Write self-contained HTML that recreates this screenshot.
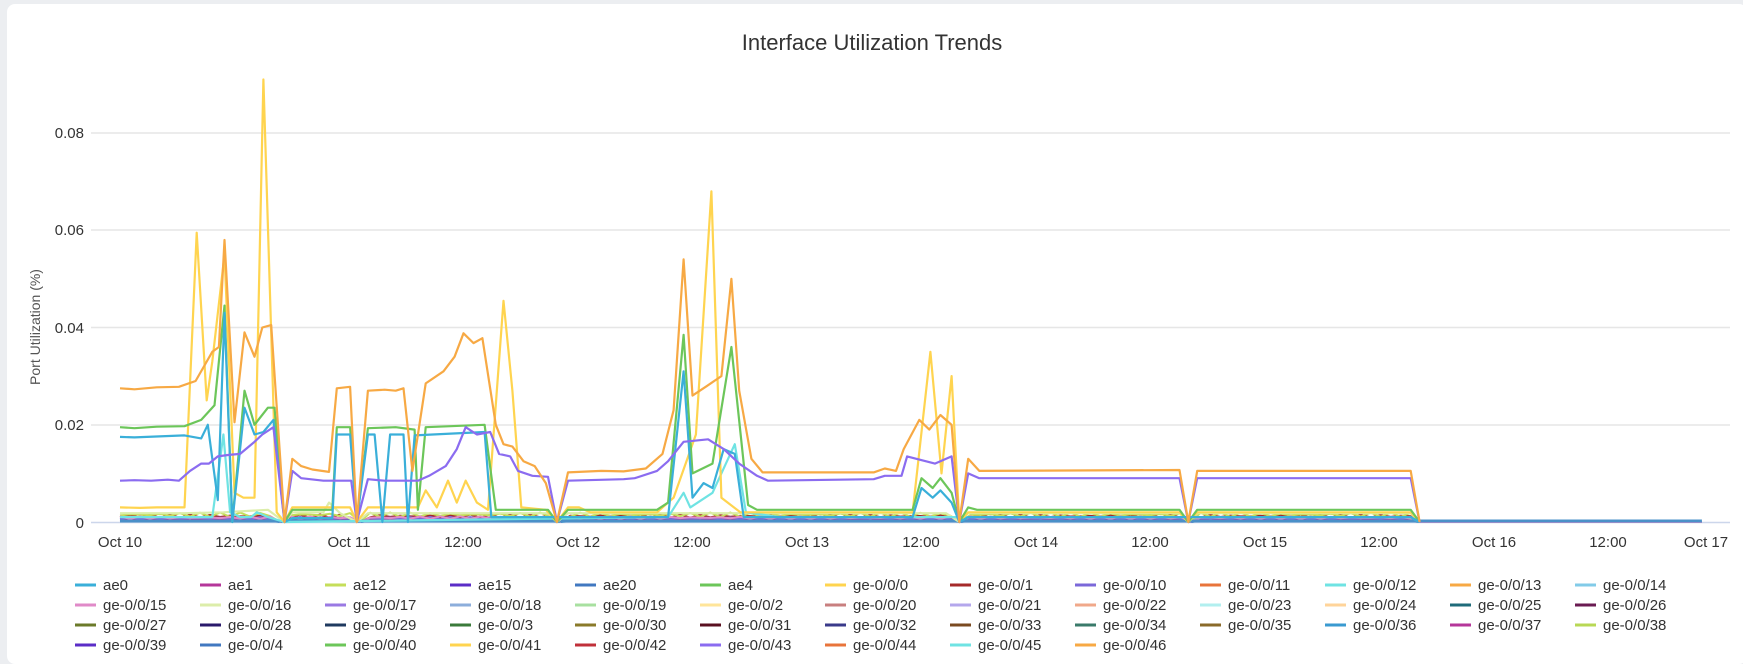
<!DOCTYPE html>
<html><head><meta charset="utf-8"><style>
html,body{margin:0;padding:0;background:#eceef1;width:1743px;height:657px;overflow:hidden}
.card{position:absolute;left:7px;top:4px;width:1740px;height:660px;background:#fff;border-radius:8px}
svg{position:absolute;left:0;top:0}
text{font-family:"Liberation Sans",sans-serif}
</style></head><body>
<div class="card"></div>
<svg id="s" width="1743" height="657" xmlns="http://www.w3.org/2000/svg">
<text x="872" y="50" text-anchor="middle" font-size="22" fill="#333">Interface Utilization Trends</text>
<g stroke="#e6e6e6" stroke-width="1.5">
<line x1="91" y1="133" x2="1730" y2="133"/><line x1="91" y1="230" x2="1730" y2="230"/>
<line x1="91" y1="327.5" x2="1730" y2="327.5"/><line x1="91" y1="425" x2="1730" y2="425"/>
</g>
<line x1="91" y1="522.5" x2="1730" y2="522.5" stroke="#ccd6eb" stroke-width="1.5"/>
<g font-size="15" fill="#333" text-anchor="end">
<text x="84" y="138">0.08</text><text x="84" y="235">0.06</text><text x="84" y="333">0.04</text><text x="84" y="430">0.02</text><text x="84" y="528">0</text>
</g>
<text transform="translate(40,327) rotate(-90)" text-anchor="middle" font-size="14" fill="#555">Port Utilization (%)</text>
<g font-size="15" fill="#333" text-anchor="middle">
<text x="120" y="547">Oct 10</text><text x="234" y="547">12:00</text><text x="349" y="547">Oct 11</text><text x="463" y="547">12:00</text><text x="578" y="547">Oct 12</text><text x="692" y="547">12:00</text><text x="807" y="547">Oct 13</text><text x="921" y="547">12:00</text><text x="1036" y="547">Oct 14</text><text x="1150" y="547">12:00</text><text x="1265" y="547">Oct 15</text><text x="1379" y="547">12:00</text><text x="1494" y="547">Oct 16</text><text x="1608" y="547">12:00</text><text x="1706" y="547">Oct 17</text>
</g>
<g id="series" fill="none" stroke-width="2.2" stroke-linejoin="round"></g>
<g id="legend" font-size="15" fill="#333"></g>
</svg>
<script>
var NS="http://www.w3.org/2000/svg";
function X(xd){return 120+(xd-107)*1.1117;}
function Y(v){return 522-v/0.02*97.25;}
function poly(c,pts,w){var p=document.createElementNS(NS,"polyline");p.setAttribute("stroke",c);if(w)p.setAttribute("stroke-width",w);
p.setAttribute("points",pts.map(function(a){return X(a[0]).toFixed(1)+","+Y(a[1]).toFixed(1)}).join(" "));document.getElementById("series").appendChild(p);}
var drops=[[255],[320],[500],[862],[1068],[1276]];
// baseline clutter
var base=[["#4178c0",0.0003],["#b5369a",0.0006],["#a52a2a",0.0012],["#7b68d9",0.0008],["#c5de5a",0.0015],["#3a9ad0",0.0002],["#e08ac8",0.0009]];
base.forEach(function(b,i){var pts=[];for(var x=107;x<=1268;x+=9){var v=b[1]*(1+0.3*Math.sin(x*0.37+i));
 drops.forEach(function(d){if(Math.abs(x-d[0])<5)v=0;});pts.push([x,v]);}pts.push([1276,0],[1530,0]);poly(b[0],pts,2);});
poly("#4a90c8",[[107,0.0002],[1530,0.0002]],3);
// green yellowish ae12/16
poly("#dcedaa",[[107,0.0018],[165,0.0018],[200,0.002],[240,0.0025],[255,0],[262,0.002],[290,0.002],[295,0.004],[305,0.0018],[320,0],[330,0.0018],[370,0.0018],[440,0.0018],[492,0.0018],[500,0],[510,0.0018],[850,0.0018],[862,0],[870,0.0018],[1060,0.0018],[1068,0],[1076,0.0018],[1268,0.0018],[1276,0]]);
// cyan
poly("#6fe3e3",[[107,0.001],[190,0.001],[200,0.018],[206,0.002],[215,0.001],[225,0.001],[230,0.002],[240,0.001],[255,0],[600,0.001],[614,0.006],[620,0.003],[640,0.006],[660,0.016],[670,0.002],[700,0.001],[1268,0.001],[1276,0]]);
// yellow
poly("#ffd44f",[[107,0.003],[125,0.0029],[140,0.003],[165,0.003],[176,0.0595],[185,0.025],[190,0.033],[201,0.055],[210,0.006],[218,0.005],[228,0.005],[236,0.091],[248,0.002],[255,0],[262,0.003],[314,0.003],[320,0],[330,0.003],[375,0.003],[382,0.0065],[392,0.003],[402,0.0085],[410,0.004],[418,0.0085],[428,0.004],[438,0.0025],[452,0.0455],[460,0.027],[468,0.003],[490,0.0025],[500,0],[510,0.003],[520,0.003],[530,0.002],[590,0.002],[605,0.005],[625,0.018],[639,0.068],[648,0.005],[665,0.002],[820,0.002],[836,0.035],[846,0.010],[855,0.030],[862,0],[870,0.002],[1060,0.002],[1068,0],[1076,0.002],[1268,0.002],[1276,0]]);
// green
poly("#6cc65a",[[107,0.0195],[120,0.0193],[140,0.0196],[165,0.0197],[180,0.021],[192,0.024],[201,0.0445],[208,0],[219,0.027],[228,0.020],[240,0.0235],[246,0.0235],[255,0],[262,0.0025],[298,0.0025],[302,0.0195],[314,0.0195],[320,0],[330,0.0193],[355,0.0195],[365,0.0192],[372,0.019],[375,0.0025],[382,0.0195],[435,0.020],[445,0.0025],[492,0.0025],[500,0],[510,0.0025],[590,0.0025],[600,0.004],[614,0.0385],[622,0.010],[640,0.012],[657,0.036],[672,0.0035],[680,0.0025],[820,0.0025],[828,0.009],[838,0.007],[845,0.009],[855,0.006],[862,0],[870,0.003],[878,0.0025],[1060,0.0025],[1068,0],[1076,0.0025],[1268,0.0025],[1276,0]]);
// blue ae0
poly("#3aafd9",[[107,0.0175],[120,0.0174],[165,0.0178],[180,0.0172],[186,0.020],[195,0.0045],[201,0.043],[208,0],[219,0.0235],[228,0.018],[236,0.0185],[245,0.021],[255,0],[262,0.0008],[298,0.0008],[302,0.018],[314,0.018],[320,0],[330,0.018],[336,0.018],[343,0],[350,0.018],[362,0.018],[366,0],[372,0.0178],[435,0.0185],[441,0.001],[600,0.001],[614,0.031],[622,0.005],[632,0.008],[640,0.007],[650,0.015],[660,0.014],[668,0.001],[820,0.001],[828,0.007],[838,0.005],[845,0.0065],[855,0.004],[862,0],[870,0.001],[1268,0.001],[1276,0]]);
// purple
poly("#8b6cf0",[[107,0.0085],[120,0.0086],[135,0.0085],[150,0.0087],[160,0.0085],[170,0.0105],[180,0.012],[187,0.012],[195,0.0135],[205,0.0138],[215,0.014],[228,0.0165],[235,0.018],[245,0.0195],[255,0],[262,0.0105],[270,0.009],[290,0.0085],[315,0.0085],[320,0],[330,0.0088],[345,0.0085],[375,0.0085],[385,0.0095],[400,0.0115],[410,0.015],[418,0.0195],[428,0.018],[440,0.0185],[448,0.014],[458,0.0135],[465,0.0105],[478,0.0095],[492,0.0093],[500,0],[510,0.0085],[560,0.0088],[570,0.009],[590,0.0105],[600,0.0125],[614,0.0165],[636,0.017],[650,0.015],[664,0.012],[680,0.0095],[690,0.0085],[785,0.0088],[795,0.0095],[810,0.0095],[815,0.0135],[840,0.012],[855,0.0135],[862,0],[870,0.010],[880,0.009],[1060,0.009],[1068,0],[1076,0.009],[1268,0.009],[1276,0]]);
// orange
poly("#f7a944",[[107,0.0275],[120,0.0273],[140,0.0277],[160,0.0278],[175,0.029],[190,0.035],[196,0.036],[201,0.058],[210,0.0205],[219,0.039],[228,0.034],[235,0.040],[243,0.0405],[255,0],[262,0.013],[270,0.0115],[280,0.0108],[295,0.0103],[302,0.0275],[314,0.0278],[320,0],[330,0.027],[345,0.0272],[355,0.027],[362,0.0275],[370,0.0105],[382,0.0285],[398,0.031],[408,0.034],[416,0.0388],[425,0.0368],[433,0.0378],[445,0.020],[452,0.016],[460,0.0155],[470,0.0125],[480,0.0115],[490,0.008],[500,0],[510,0.0102],[540,0.0105],[560,0.0104],[580,0.011],[595,0.014],[605,0.023],[614,0.054],[622,0.026],[635,0.028],[648,0.030],[657,0.050],[664,0.027],[675,0.013],[685,0.0102],[785,0.0102],[795,0.011],[805,0.0105],[812,0.015],[826,0.021],[835,0.019],[845,0.022],[855,0.020],[862,0],[870,0.013],[880,0.0105],[1060,0.0107],[1068,0],[1076,0.0105],[1268,0.0105],[1276,0]]);
var names=["ae0","ae1","ae12","ae15","ae20","ae4","ge-0/0/0","ge-0/0/1","ge-0/0/10","ge-0/0/11","ge-0/0/12","ge-0/0/13","ge-0/0/14","ge-0/0/15","ge-0/0/16","ge-0/0/17","ge-0/0/18","ge-0/0/19","ge-0/0/2","ge-0/0/20","ge-0/0/21","ge-0/0/22","ge-0/0/23","ge-0/0/24","ge-0/0/25","ge-0/0/26","ge-0/0/27","ge-0/0/28","ge-0/0/29","ge-0/0/3","ge-0/0/30","ge-0/0/31","ge-0/0/32","ge-0/0/33","ge-0/0/34","ge-0/0/35","ge-0/0/36","ge-0/0/37","ge-0/0/38","ge-0/0/39","ge-0/0/4","ge-0/0/40","ge-0/0/41","ge-0/0/42","ge-0/0/43","ge-0/0/44","ge-0/0/45","ge-0/0/46"];
var cols=["#3aafd9","#b5369a","#c5de5a","#5b2dc7","#4178c0","#6cc65a","#ffd44f","#a52a2a","#7b68d9","#e8743b","#6fe3e3","#f7a944","#82cbe8","#e08ac8","#dcedaa","#9a79e3","#8caedb","#a8e0a0","#ffe59a","#c87f7f","#b4a7ec","#f0a88a","#b2efef","#ffd49a","#1f6b7a","#6a1b52","#6b7a2a","#2a1a6b","#1f3a5f","#3a7a3a","#8a7a2a","#5a1020","#3a3a8a","#7a4a20","#3a7a6a","#8a6a2a","#3a9ad0","#b5369a","#b8d855","#5b2dc7","#4178c0","#6cc65a","#ffd44f","#c0303a","#8b6cf0","#e8743b","#6fe3e3","#f7a944"];
var lg=document.getElementById("legend");
names.forEach(function(n,i){var r=Math.floor(i/13),c=i%13,x=75+c*125,y=585+r*20;
var l=document.createElementNS(NS,"line");l.setAttribute("x1",x);l.setAttribute("x2",x+21);l.setAttribute("y1",y);l.setAttribute("y2",y);l.setAttribute("stroke",cols[i]);l.setAttribute("stroke-width","3");lg.appendChild(l);
var t=document.createElementNS(NS,"text");t.setAttribute("x",x+28);t.setAttribute("y",y+5);t.textContent=n;lg.appendChild(t);});
</script>
</body></html>
